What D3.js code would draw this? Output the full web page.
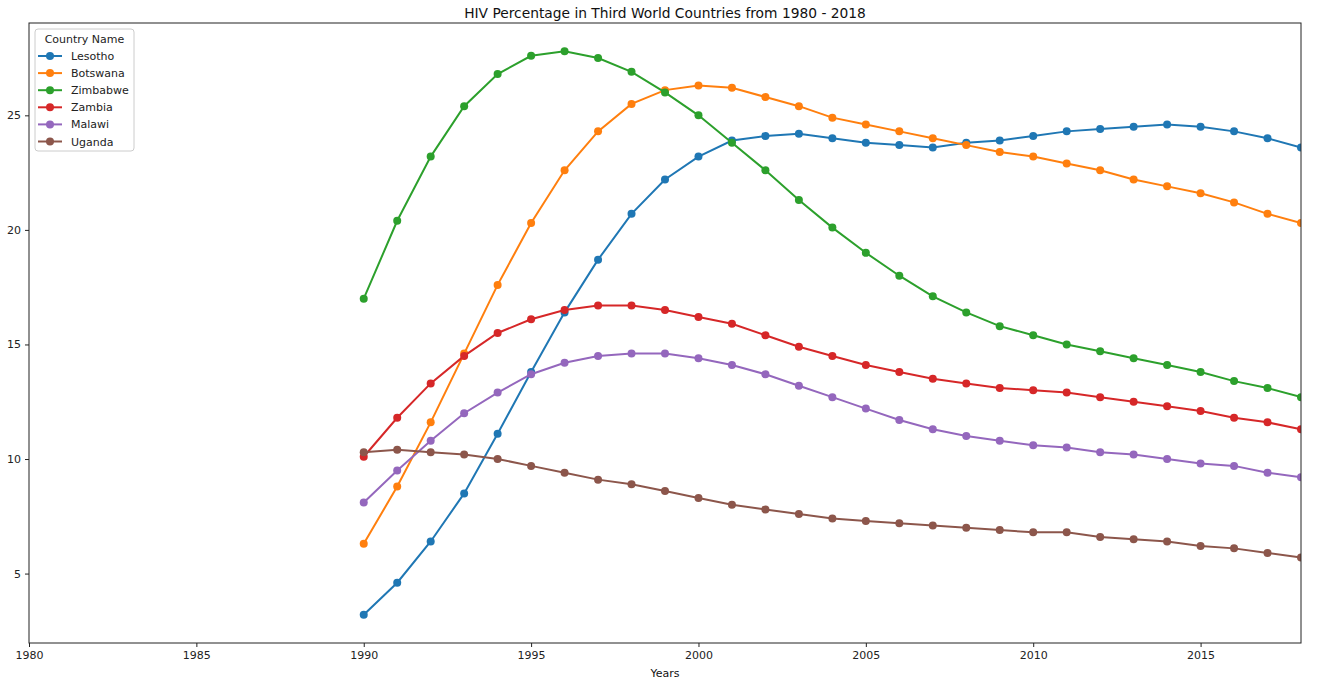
<!DOCTYPE html>
<html>
<head>
<meta charset="utf-8">
<script src="https://cdn.jsdelivr.net/npm/d3@7"></script>
<style>
  body { margin: 0; background: #fff; }
  svg { font-family: "DejaVu Sans", sans-serif; }
</style>
</head>
<body>
<svg id="chart" width="1328" height="695"></svg>
<script>
const years = d3.range(1990, 2019);
const countries = ["Lesotho", "Botswana", "Zimbabwe", "Zambia", "Malawi", "Uganda"];
const colors = ["#1f77b4", "#ff7f0e", "#2ca02c", "#d62728", "#9467bd", "#8c564b"];
const lesotho  = [3.2,4.6,6.4,8.5,11.1,13.8,16.4,18.7,20.7,22.2,23.2,23.9,24.1,24.2,24.0,23.8,23.7,23.6,23.8,23.9,24.1,24.3,24.4,24.5,24.6,24.5,24.3,24.0,23.6];
const botswana = [6.3,8.8,11.6,14.6,17.6,20.3,22.6,24.3,25.5,26.1,26.3,26.2,25.8,25.4,24.9,24.6,24.3,24.0,23.7,23.4,23.2,22.9,22.6,22.2,21.9,21.6,21.2,20.7,20.3];
const zimbabwe = [17.0,20.4,23.2,25.4,26.8,27.6,27.8,27.5,26.9,26.0,25.0,23.8,22.6,21.3,20.1,19.0,18.0,17.1,16.4,15.8,15.4,15.0,14.7,14.4,14.1,13.8,13.4,13.1,12.7];
const zambia   = [10.1,11.8,13.3,14.5,15.5,16.1,16.5,16.7,16.7,16.5,16.2,15.9,15.4,14.9,14.5,14.1,13.8,13.5,13.3,13.1,13.0,12.9,12.7,12.5,12.3,12.1,11.8,11.6,11.3];
const malawi   = [8.1,9.5,10.8,12.0,12.9,13.7,14.2,14.5,14.6,14.6,14.4,14.1,13.7,13.2,12.7,12.2,11.7,11.3,11.0,10.8,10.6,10.5,10.3,10.2,10.0,9.8,9.7,9.4,9.2];
const uganda   = [10.3,10.4,10.3,10.2,10.0,9.7,9.4,9.1,8.9,8.6,8.3,8.0,7.8,7.6,7.4,7.3,7.2,7.1,7.0,6.9,6.8,6.8,6.6,6.5,6.4,6.2,6.1,5.9,5.7];
const seriesValues = [lesotho, botswana, zimbabwe, zambia, malawi, uganda];
const xTicks = [1980, 1985, 1990, 1995, 2000, 2005, 2010, 2015];
const yTicks = [5, 10, 15, 20, 25];
const titleText = "HIV Percentage in Third World Countries from 1980 - 2018";
const xLabel = "Years";
const legendTitle = "Country Name";

const svg = d3.select("#chart");
const L = 29, R = 1301, T = 23, B = 643;

const x = d3.scaleLinear().domain([1980, 2018]).range([L, R]);
const allVals = seriesValues.flat();
const mn = d3.min(allVals), mx = d3.max(allVals), pad = (mx - mn) * 0.05;
const y = d3.scaleLinear().domain([mn - pad, mx + pad]).range([B, T]);

svg.append("defs").append("clipPath").attr("id", "clip")
  .append("rect").attr("x", L).attr("y", T).attr("width", R - L).attr("height", B - T);

const plot = svg.append("g").attr("clip-path", "url(#clip)");
const line = d3.line().x((d, i) => x(years[i])).y(d => y(d));

seriesValues.forEach((vals, k) => {
  plot.append("path").datum(vals)
    .attr("d", line).attr("fill", "none")
    .attr("stroke", colors[k]).attr("stroke-width", 2);
  plot.selectAll(null).data(vals).enter().append("circle")
    .attr("cx", (d, i) => x(years[i])).attr("cy", d => y(d))
    .attr("r", 4).attr("fill", colors[k]);
});

// axes
const xAxis = svg.append("g").attr("transform", `translate(0,${B})`)
  .call(d3.axisBottom(x).tickValues(xTicks).tickFormat(d3.format("d")).tickSize(4).tickPadding(4));
const yAxis = svg.append("g").attr("transform", `translate(${L},0)`)
  .call(d3.axisLeft(y).tickValues(yTicks).tickSize(4).tickPadding(4));
[xAxis, yAxis].forEach(a => {
  a.select(".domain").remove();
  a.selectAll("text").attr("font-size", 11).attr("fill", "#222").attr("font-family", "DejaVu Sans");
  a.selectAll("line").attr("stroke", "#222");
});

// frame
svg.append("rect").attr("x", L).attr("y", T).attr("width", R - L).attr("height", B - T)
  .attr("fill", "none").attr("stroke", "#222").attr("stroke-width", 1);

// title and labels
svg.append("text").attr("x", (L + R) / 2).attr("y", 18).attr("text-anchor", "middle")
  .attr("font-size", 13.8).attr("fill", "#111").text(titleText);
svg.append("text").attr("x", (L + R) / 2).attr("y", 677).attr("text-anchor", "middle")
  .attr("font-size", 11).attr("fill", "#111").text(xLabel);

// legend
const lg = svg.append("g");
lg.append("rect").attr("x", 35).attr("y", 29).attr("width", 99).attr("height", 122)
  .attr("rx", 3).attr("fill", "#fff").attr("fill-opacity", 0.8)
  .attr("stroke", "#ccc").attr("stroke-width", 1);
lg.append("text").attr("x", 84.5).attr("y", 43).attr("text-anchor", "middle")
  .attr("font-size", 11).attr("fill", "#222").text(legendTitle);
countries.forEach((c, k) => {
  const yy = 56 + k * 17.1;
  lg.append("line").attr("x1", 38).attr("x2", 62).attr("y1", yy).attr("y2", yy)
    .attr("stroke", colors[k]).attr("stroke-width", 2);
  lg.append("circle").attr("cx", 50).attr("cy", yy).attr("r", 4).attr("fill", colors[k]);
  lg.append("text").attr("x", 71).attr("y", yy + 4).attr("font-size", 11)
    .attr("fill", "#222").text(c);
});
</script>
</body>
</html>
